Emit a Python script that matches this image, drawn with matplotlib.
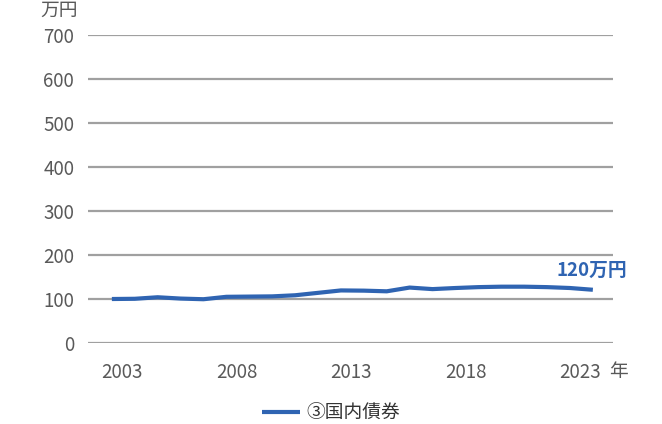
import matplotlib.pyplot as plt
import numpy as np

plt.rcParams['font.family'] = ['Noto Sans CJK JP', 'DejaVu Sans']

# 国内債券 (万円), one value per year
years = np.arange(2002, 2024)
values = [100, 100.5, 104, 101, 99.5, 105, 105.5, 106, 108.5, 114, 119.5,
          119, 117.5, 126, 122.5, 125, 127, 128, 128, 127, 125, 121]
year_ticks = [2003, 2008, 2013, 2018, 2023]
y_ticks = [0, 100, 200, 300, 400, 500, 600, 700]
series_name = '③国内債券'
end_label = '120万円'

blue = '#2f64b2'
gray = '#595959'

fig = plt.figure(figsize=(6.62, 4.24), dpi=100)
ax = fig.add_axes([0.133, 0.191, 0.793, 0.7265])

# points sit mid-year on the date axis
ax.plot(years + 0.56, values, color=blue, lw=3, solid_capstyle='butt',
        solid_joinstyle='round', label=series_name, zorder=3)

ax.set_xlim(2001.52, 2024.44)
ax.set_ylim(0, 700)
ax.set_yticks(y_ticks)
ax.set_xticks(year_ticks)
ax.set_xticklabels([str(y) for y in year_ticks])
ax.grid(axis='y', color='#a0a0a0', lw=1.6)
ax.set_axisbelow(True)
for s in ax.spines.values():
    s.set_visible(False)
ax.tick_params(length=0, labelsize=13.5, labelcolor=gray)
ax.tick_params(axis='y', pad=10)
ax.tick_params(axis='x', pad=14)

fig.text(40 / 662, 1 - 10 / 424, '万円', fontsize=13.5, color=gray,
         ha='left', va='center')
fig.text(609 / 662, 1 - 372 / 424, '年', fontsize=13.5, color=gray,
         ha='left', va='center')
ax.annotate(end_label, xy=(years[-1] + 0.56, values[-1]), xytext=(24.5, 14),
            textcoords='offset points', ha='right', va='center',
            fontsize=13.5, fontweight='bold', color=blue)

fig.legend(loc='center', bbox_to_anchor=(0.5, 1 - 413 / 424), frameon=False,
           fontsize=13.5, handlelength=2.0, handletextpad=0.35,
           labelcolor='#333333')

fig.savefig('out.png', dpi=100)
